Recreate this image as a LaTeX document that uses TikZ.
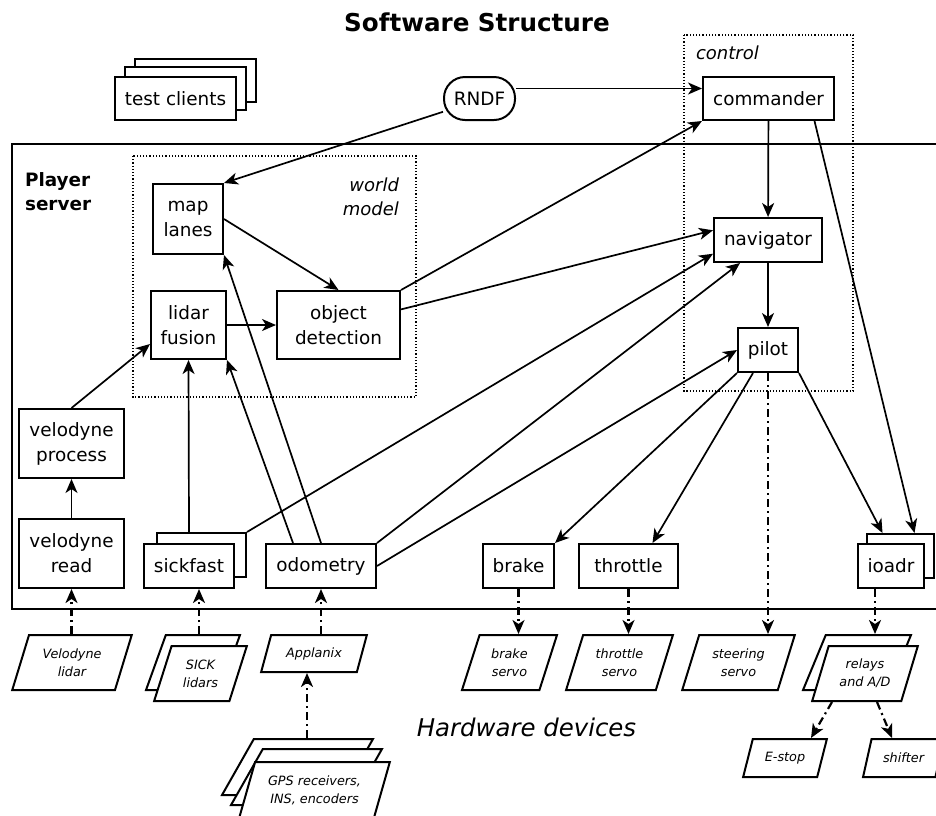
\documentclass[tikz,border=0pt]{standalone}
\usepackage{fontspec}
\setmainfont{DejaVu Sans}
\usetikzlibrary{arrows.meta,shapes.geometric}

\begin{document}
\begin{tikzpicture}[x=0.5pt,y=-0.5pt,>={Stealth[length=7pt,width=6pt,inset=2pt]}]

\tikzset{%
every box/.style={
draw,
fill=white,
line width=1pt,
inner sep=0pt,
align=center,
font=\fontsize{9.2}{12.5}\selectfont
},
device/.style={
draw,
fill=white,
line width=1pt,
trapezium,
trapezium left angle=70,
trapezium right angle=110,
trapezium stretches=true,
inner sep=2pt,
align=center,
font=\fontsize{6.4}{9}\selectfont\itshape
},
link/.style={->, line width=0.85pt},
hw link/.style={->, line width=1.1pt, dash pattern=on 4pt off 2pt on 1pt off 2pt},
group/.style={densely dotted, line width=0.6pt},
}

\useasboundingbox (0,0) rectangle (936,815);
\fill[white] (0,0) rectangle (936,815);

% Title and group frames
\node[font=\fontsize{12.3}{14}\selectfont\bfseries] (title) at (477,22) {Software Structure};
\draw[line width=1pt] (12,144) rectangle (950,609);
\draw[group] (133,156) rectangle (416,397);
\draw[group] (684,35) rectangle (853,391);
\node[font=\fontsize{9.2}{12}\selectfont\bfseries, align=left, anchor=west] (player) at (18,192) {Player\\server};
\node[font=\fontsize{9}{12}\selectfont\itshape, align=right, anchor=east] (wm) at (406,197) {world\\model};
\node[font=\fontsize{9}{12}\selectfont\itshape, anchor=west] (ctl) at (689,53) {control};

% Test clients (stacked)
\foreach \m/\dx/\dy in {3/20/-18,2/10/-10}
\node [every box, minimum width=60.5pt, minimum height=21.5pt] (tc-\m) at (175.5+\dx,98.5+\dy) {};
\node [every box, minimum width=60.5pt, minimum height=21.5pt] (tc-1) at (175.5,98.5) {test clients};

% Software modules
\node [every box, minimum width=35.5pt, minimum height=21.5pt, rounded corners=10.5pt] (rndf) at (479.5,98.5) {RNDF};
\node [every box, minimum width=65.5pt, minimum height=21.5pt] (cmd) at (768.5,98.5) {commander};
\node [every box, minimum width=54pt, minimum height=22pt] (nav) at (768,240) {navigator};
\node [every box, minimum width=30pt, minimum height=22pt] (pilot) at (768,350) {pilot};
\node [every box, minimum width=35pt, minimum height=35pt] (map) at (188,219) {map\\lanes};
\node [every box, minimum width=37.5pt, minimum height=34pt] (lidar) at (188.5,325) {lidar\\fusion};
\node [every box, minimum width=61.5pt, minimum height=34pt] (od) at (338.5,325) {object\\detection};
\node [every box, minimum width=52.5pt, minimum height=34.5pt] (vp) at (71.5,443.5) {velodyne\\process};
\node [every box, minimum width=52.5pt, minimum height=34.5pt] (vr) at (71.5,553.5) {velodyne\\read};
\node [every box, minimum width=44.5pt, minimum height=22pt] (sickb) at (201.5,555) {};
\node [every box, minimum width=45pt, minimum height=22pt] (sick) at (189,566) {sickfast};
\node [every box, minimum width=55pt, minimum height=22pt] (odo) at (321,566) {odometry};
\node [every box, minimum width=35.5pt, minimum height=22pt] (brake) at (518.5,566) {brake};
\node [every box, minimum width=49.5pt, minimum height=22pt] (thr) at (628.5,566) {throttle};
\node [every box, minimum width=33.5pt, minimum height=22pt] (ioadrb) at (900.5,556) {};
\node [every box, minimum width=33pt, minimum height=22pt] (ioadr) at (891,566) {ioadr};

% Hardware devices
\foreach \n/\x/\w/\t in {vlid/72/60/{Velodyne\\lidar}, bserv/509.5/47.5/{brake\\servo},
  tserv/619.5/53.5/{throttle\\servo}, sserv/738.5/56.5/{steering\\servo}}
\node [device, minimum width=\w pt, minimum height=27.5pt] (\n) at (\x,662.5) {\t};
\node [device, minimum width=47pt, minimum height=27.5pt] (sicklb) at (193,662.5) {};
\node [device, minimum width=46.5pt, minimum height=27.5pt] (sickl) at (200.5,673.5) {SICK\\lidars};
\node [device, minimum width=53pt, minimum height=18.5pt] (appl) at (314,653.5) {Applanix};
\foreach \m/\dx/\dy in {3/0/0,2/9/10}
\node [device, minimum width=75.5pt, minimum height=28pt] (gps-\m) at (297.5+\dx,767+\dy) {};
\node [device, minimum width=75.5pt, minimum height=28pt] (gps-1) at (314.5,790) {GPS receivers,\\INS, encoders};
\node [device, minimum width=54pt, minimum height=27.5pt] (relb) at (857,662.5) {};
\node [device, minimum width=53pt, minimum height=27.5pt] (rel) at (865,673.5) {relays\\and A/D};
\node [device, minimum width=42pt, minimum height=19pt] (estop) at (785,758) {E-stop};
\node [device, minimum width=40.5pt, minimum height=19pt] (shift) at (903.5,758) {shifter};
\node[font=\fontsize{12.2}{14}\selectfont\itshape] (hw) at (526.5,727) {Hardware devices};

% Data flow between modules
\draw[link] (rndf.200) -- (map.north east);
\draw[link] ([yshift=5pt]rndf.east) -- ([yshift=5pt]cmd.west);
\draw[link] (map.east) -- (od.north);
\draw[link] (lidar) -- (od);
\draw[link] (vr) -- (vp);
\draw[link] (vp.north) -- ([yshift=-9.5pt]lidar.west);
\draw[link] (sick.north |- sickb.north) -- (lidar.south);
\draw[link] ([xshift=-14pt]odo.north) -- (lidar.south east);
\draw[link] (odo.north) -- (map.south east);
\draw[link] (od.north east) -- (cmd.south west);
\draw[link] (od.14) -- (nav.170);
\draw[link] (sickb.north east) -- (nav.194);
\draw[link] (odo.north east) -- ([xshift=-14pt]nav.south);
\draw[link] (odo.east) -- (pilot.west);
\draw[link] (cmd) -- (nav);
\draw[link] (nav) -- (pilot);
\draw[link] ([xshift=23pt]cmd.south) -- ([xshift=7pt]ioadrb.north);
\draw[link] (pilot.south east) -- ([xshift=-9pt]ioadrb.north);
\draw[link] (pilot.south west) -- (brake.north east);
\draw[link] ([xshift=-7.5pt]pilot.south) -- ([xshift=12pt]thr.north);

% Links to hardware
\coordinate (sick-in) at ([xshift=5pt]sick.south);
\coordinate (gps-out) at ([xshift=-3.5pt]appl.south);
\coordinate (ioadr-out) at ([xshift=-8pt]ioadr.south);
\draw[hw link] (vr.south |- vlid.north) -- (vr.south);
\draw[hw link] (sick-in |- sicklb.north) -- (sick-in);
\draw[hw link] (odo.south |- appl.north) -- (odo.south);
\draw[hw link] (gps-out |- gps-3.north) -- (gps-out);
\draw[hw link] (brake.south) -- (brake.south |- bserv.north);
\draw[hw link] (thr.south) -- (thr.south |- tserv.north);
\draw[hw link] (pilot.south) -- (pilot.south |- sserv.north);
\draw[hw link] (ioadr-out) -- (ioadr-out |- relb.north);
\draw[hw link] ([xshift=-16.5pt]rel.south) -- ([xshift=13pt]estop.north);
\draw[hw link] ([xshift=6pt]rel.south) -- ([xshift=-5.75pt]shift.north);

\end{tikzpicture}
\end{document}
